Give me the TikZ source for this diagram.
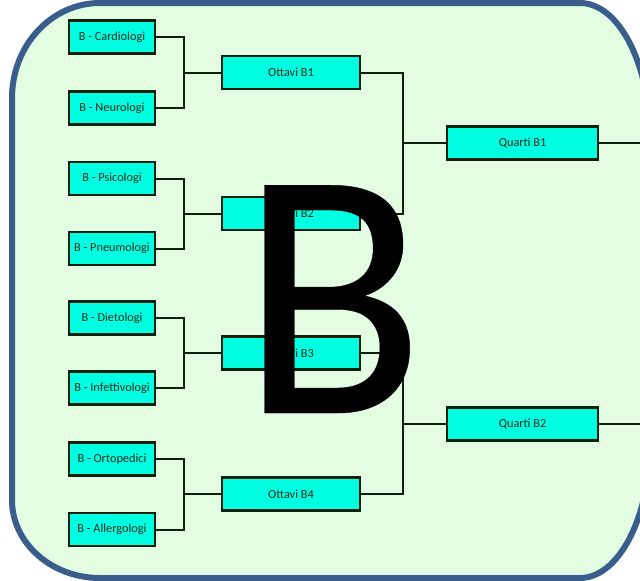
\documentclass[tikz,border=0pt]{standalone}
\usepackage{fontspec}
\setmainfont{Carlito}
\newfontfamily\bigfont[FakeBold=0.12]{Carlito}
\definecolor{bordc}{HTML}{3A5E8C}
\definecolor{bgc}{HTML}{E3FDE3}
\definecolor{boxc}{HTML}{00FFE1}
\definecolor{linec}{HTML}{0D1F0D}
\definecolor{txtc}{HTML}{0E2A1E}
\begin{document}
\begin{tikzpicture}[x=1pt,y=-1pt,
  team/.style={draw=linec, fill=boxc, line width=2.2pt, minimum width=86pt,
    minimum height=33pt, inner sep=0pt, font=\fontsize{12.3}{14}\selectfont, text=txtc},
  ottavo/.style={team, minimum width=138pt},
  quarto/.style={team, minimum width=151pt},
  conn/.style={draw=linec, line width=2pt},
  frame/.style={draw=bordc, fill=bgc, line width=6pt},
  bigletter/.style={font=\bigfont\fontsize{355}{355}\selectfont, inner sep=0pt, anchor=base, text=black}]
\useasboundingbox (0,0) rectangle (640,581);
\clip (0,0) rectangle (640,581);
% frame
\path[frame] (12,98) arc[start angle=180,end angle=270,x radius=88,y radius=95]
  -- (580,3) arc[start angle=270,end angle=360,x radius=70,y radius=135]
  -- (650,443) arc[start angle=0,end angle=90,x radius=70,y radius=135]
  -- (100,578) arc[start angle=90,end angle=180,x radius=88,y radius=78] -- cycle;
% teams
\node[team] (t1) at (112,37) {B - Cardiologi};
\node[team] (t2) at (112,108) {B - Neurologi};
\node[team] (t3) at (112,178.5) {B - Psicologi};
\node[team] (t4) at (112,248.5) {B - Pneumologi};
\node[team] (t5) at (112,318) {B - Dietologi};
\node[team] (t6) at (112,388) {B - Infettivologi};
\node[team] (t7) at (112,459) {B - Ortopedici};
\node[team] (t8) at (112,529.5) {B - Allergologi};
% ottavi
\node[ottavo] (o1) at (291,72.5) {Ottavi B1};
\node[ottavo] (o2) at (291,213.5) {Ottavi B2};
\node[ottavo] (o3) at (291,353) {Ottavi B3};
\node[ottavo] (o4) at (291,494) {Ottavi B4};
% quarti
\node[quarto] (q1) at (522.5,143) {Quarti B1};
\node[quarto] (q2) at (522.5,424) {Quarti B2};
\coordinate (r1) at (641,143);
\coordinate (r2) at (641,424);
% connectors
\draw[conn] (t1.east) -- ++(28,0) |- (t2.east);
\draw[conn] (t3.east) -- ++(28,0) |- (t4.east);
\draw[conn] (t5.east) -- ++(28,0) |- (t6.east);
\draw[conn] (t7.east) -- ++(28,0) |- (t8.east);
\draw[conn] (o1.west) -- ++(-37,0);
\draw[conn] (o2.west) -- ++(-37,0);
\draw[conn] (o3.west) -- ++(-37,0);
\draw[conn] (o4.west) -- ++(-37,0);
\draw[conn] (o1.east) -- ++(42,0) |- (o2.east);
\draw[conn] (o3.east) -- ++(42,0) |- (o4.east);
\draw[conn] (q1.west) -- ++(-43,0);
\draw[conn] (q2.west) -- ++(-43,0);
\draw[conn] (q1.east) -- (r1);
\draw[conn] (q2.east) -- (r2);
% big letter
\node[bigletter] (bigb) at (332.5,413) {\scalebox{0.95}[1]{B}};
\end{tikzpicture}
\end{document}
